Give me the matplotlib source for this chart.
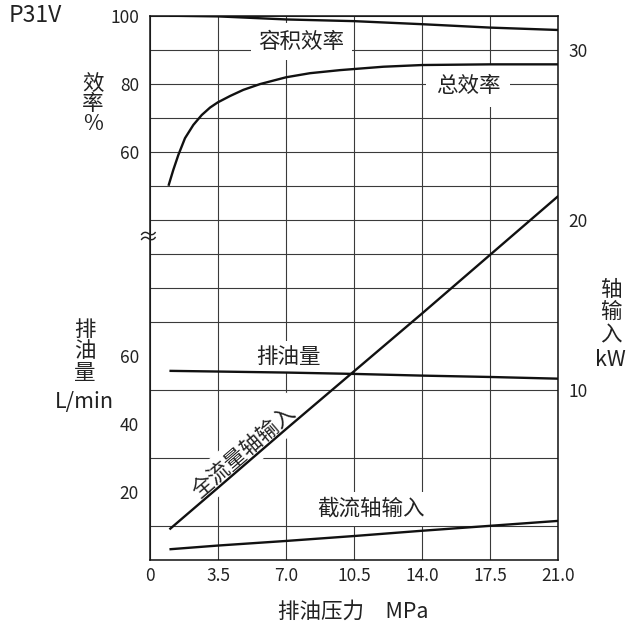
import matplotlib
matplotlib.use("Agg")
import matplotlib.pyplot as plt
import numpy as np

plt.rcParams['font.family'] = ['Noto Sans CJK SC', 'DejaVu Sans']
plt.rcParams['font.weight'] = 'light'

# x axis: discharge pressure (MPa)
pressure_ticks = [0, 3.5, 7.0, 10.5, 14.0, 17.5, 21.0]
pressure_labels = ["0", "3.5", "7.0", "10.5", "14.0", "17.5", "21.0"]

# volumetric efficiency (%)
p_vol = [1.0, 3.5, 7.0, 10.5, 14.0, 17.5, 21.0]
vol_eff = [100.0, 99.8, 98.9, 98.4, 97.5, 96.5, 95.8]

# overall efficiency (%)
p_tot = [0.95, 1.2, 1.46, 1.8, 2.23, 2.66, 3.09, 3.48, 4.12, 4.8, 5.66,
         7.0, 8.23, 9.77, 12.0, 14.0, 17.5, 21.0]
total_eff = [50.0, 54.7, 59.1, 64.0, 67.9, 70.8, 73.0, 74.5, 76.4, 78.2, 79.9,
             81.9, 83.1, 84.0, 85.0, 85.5, 85.7, 85.7]

# discharge flow (L/min)
p_flow = [1.0, 3.5, 7.0, 10.5, 14.0, 17.5, 21.0]
flow = [55.6, 55.4, 55.1, 54.7, 54.2, 53.8, 53.3]

# shaft input power (kW)
p_pow = [1.0, 3.5, 7.0, 10.5, 14.0, 17.5, 21.0]
full_power = [1.8, 4.25, 7.7, 11.1, 14.5, 17.95, 21.4]
cutoff_power = [0.63, 0.85, 1.12, 1.41, 1.72, 2.01, 2.3]

eff_ticks = [60, 80, 100]
flow_ticks = [20, 40, 60]
power_ticks = [10, 20, 30]

W = H = 628
fig = plt.figure(figsize=(W / 100, H / 100), dpi=100)
L, R, T, B = 150, 558.3, 15.7, 560
ax = fig.add_axes([L / W, 1 - B / H, (R - L) / W, (B - T) / H])

grid_kw = dict(color='#3a3a3a', linewidth=0.8)
line_kw = dict(color='#111111', linewidth=1.7, solid_capstyle='butt',
               solid_joinstyle='round', zorder=3)
label_font = 15.5
tick_font = 12.5
text_color = '#222222'

# flow axis (left, lower section)
ax.set_xlim(0, 21)
ax.set_ylim(0, 160)
ax.set_xticks(pressure_ticks)
ax.set_xticklabels(pressure_labels)
ax.set_yticks(flow_ticks)
ax.set_yticks(np.arange(0, 161, 10), minor=True)
ax.xaxis.grid(True, which='major', **grid_kw)
ax.yaxis.grid(True, which='minor', **grid_kw)
ax.tick_params(which='both', length=0, labelsize=tick_font, colors=text_color)
ax.tick_params(axis='y', pad=8)
ax.tick_params(axis='x', pad=5)
for s in ax.spines.values():
    s.set_linewidth(1.1)
    s.set_color('#111111')

ax.plot(p_flow, flow, **line_kw)
ax.text(7.1, 59.7, "排油量", fontsize=label_font, ha='center', va='center',
        color=text_color,
        bbox=dict(boxstyle='square,pad=0.25', fc='white', ec='none'), zorder=2.5)

# efficiency axis (left, upper section)
ax_eff = ax.twinx()
ax_eff.set_ylim(-60, 100)
ax_eff.set_yticks(eff_ticks)
ax_eff.yaxis.tick_left()
ax_eff.tick_params(axis='y', length=0, labelsize=tick_font, colors=text_color, pad=8,
                   labelleft=True, labelright=False)
for s in ax_eff.spines.values():
    s.set_visible(False)
ax_eff.plot(p_vol, vol_eff, **line_kw)
ax_eff.plot(p_tot, total_eff, **line_kw)
ax_eff.text(7.77, 92.3, "容积效率", fontsize=label_font, ha='center', va='center',
            color=text_color,
            bbox=dict(boxstyle='square,pad=0.35', fc='white', ec='none'), zorder=2.5)
ax_eff.text(16.35, 79.3, "总效率", fontsize=label_font, ha='center', va='center',
            color=text_color,
            bbox=dict(boxstyle='square,pad=0.45', fc='white', ec='none'), zorder=2.5)

# shaft input power axis (right)
ax_pow = ax.twinx()
ax_pow.set_ylim(0, 32)
ax_pow.set_yticks(power_ticks)
ax_pow.tick_params(axis='y', length=0, labelsize=tick_font, colors=text_color, pad=7)
for s in ax_pow.spines.values():
    s.set_visible(False)
ax_pow.plot(p_pow, full_power, **line_kw)
ax_pow.plot(p_pow, cutoff_power, **line_kw)
ax_pow.text(4.84, 6.35, "全流量轴输入", fontsize=label_font, ha='center', va='center',
            rotation=40.6, color=text_color,
            bbox=dict(boxstyle='square,pad=0.3', fc='white', ec='none'), zorder=2.5)
ax_pow.text(11.34, 3.0, "截流轴输入", fontsize=label_font, ha='center', va='center',
            color=text_color,
            bbox=dict(boxstyle='square,pad=0.3', fc='white', ec='none'), zorder=2.5)

# axis break mark
ax.text(-0.006, 0.593, "≈", transform=ax.transAxes, fontsize=15, ha='center',
        va='center', clip_on=False, zorder=5, color=text_color)

# axis titles
def fig_text(x, y, s, size=label_font, **kw):
    fig.text(x / W, 1 - y / H, s, fontsize=size, ha='center', va='center',
             color=text_color, **kw)

fig_text(35, 16, "P31V", size=16.5)
for ch, y in zip(["效", "率", "%"], [84, 104, 124]):
    fig_text(93, y, ch)
for ch, y in zip(["排", "油", "量"], [330, 351, 373]):
    fig_text(85, y, ch)
fig_text(84, 402, "L/min")
for ch, y in zip(["轴", "输", "入"], [290, 312, 335]):
    fig_text(611, y, ch)
fig_text(610, 360, "kW")
fig_text(353, 612, "排油压力　MPa")

fig.savefig("out.png", dpi=100, facecolor='white')
